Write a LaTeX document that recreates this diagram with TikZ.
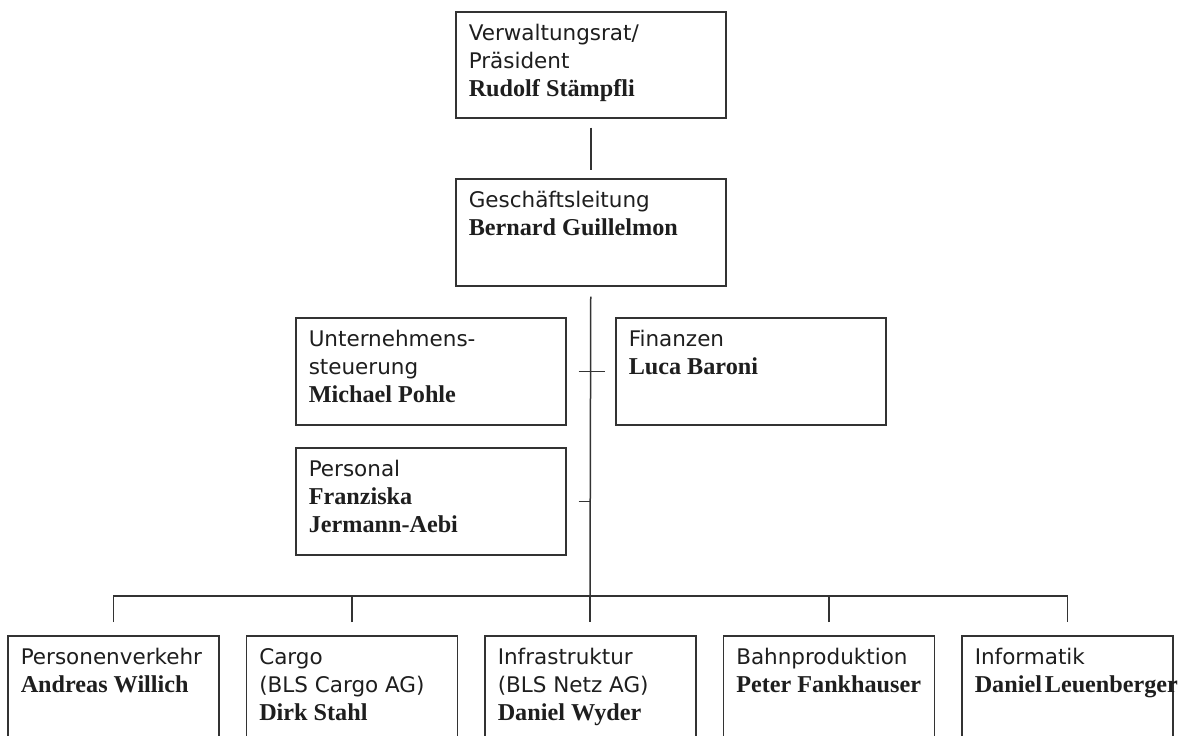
\documentclass[tikz,border=0pt]{standalone}
\usepackage{fontspec}
\setmainfont{DejaVu Sans}
\newfontfamily\nmfont{Liberation Serif}
\definecolor{linec}{HTML}{333333}
\definecolor{textc}{HTML}{1E1E1E}
\newcommand{\nm}[1]{{\nmfont\bfseries\fontsize{24.2pt}{28pt}\selectfont #1}}
\newcommand{\bx}[3]{\parbox[c][#2][t]{#1}{\raggedright\rule{0pt}{29pt}#3}}
\tikzset{
  box/.style={draw=linec, line width=1.5pt, anchor=north west, inner xsep=13pt, inner ysep=0pt,
    text=textc, font=\fontsize{21.5pt}{28pt}\selectfont},
  conn/.style={draw=linec, line width=1.5pt}
}
\begin{document}
\begin{tikzpicture}[x=1pt,y=1pt]
\useasboundingbox (0,0) rectangle (1184,-736);
\clip (0,0) rectangle (1184,-736);
\fill[white] (0,0) rectangle (1184,-736);
% upper boxes (width 270 -> text width 244)
\node[box] (top) at (455,-11) {\bx{244pt}{106pt}{Verwaltungsrat/\\Präsident\\\nm{Rudolf Stämpfli}}};
\node[box] (gl) at (455,-178) {\bx{244pt}{107pt}{Geschäftsleitung\\\nm{Bernard Guillelmon}}};
\node[box] (us) at (295,-317) {\bx{244pt}{107pt}{Unternehmens-\\steuerung\\\nm{Michael Pohle}}};
\node[box] (fin) at (615,-317) {\bx{244pt}{107pt}{Finanzen\\\nm{Luca Baroni}}};
\node[box] (pers) at (295,-447) {\bx{244pt}{107pt}{Personal\\\nm{Franziska}\\\nm{Jermann-Aebi}}};
% bottom boxes (width 211 -> text width 185), open at the bottom
\node[box] (b1) at (7,-635) {\bx{185pt}{140pt}{Personenverkehr\\\nm{Andreas Willich}}};
\node[box] (b2) at (245.5,-635) {\bx{185pt}{140pt}{Cargo\\(BLS Cargo AG)\\\nm{Dirk Stahl}}};
\node[box] (b3) at (484,-635) {\bx{185pt}{140pt}{Infrastruktur\\(BLS Netz AG)\\\nm{Daniel Wyder}}};
\node[box] (b4) at (722.5,-635) {\bx{185pt}{140pt}{Bahnproduktion\\\nm{Peter Fankhauser}}};
\node[box] (b5) at (961,-635) {\bx{185pt}{140pt}{Informatik\\\makebox[0pt][l]{\nm{Daniel\hspace{0.12em}Leuenberger}}}};
% connectors
\coordinate (j) at (590,-596);
\draw[conn] ([yshift=-9pt]top.south) -- ([yshift=8pt]gl.north);
\draw[conn] ([yshift=-10pt]gl.south) -- (j);
\draw[conn] (j) -- ([yshift=13pt]j |- b3.north);
\draw[conn] ([yshift=13pt]b1.north) |- (j) -| ([yshift=13pt]b5.north);
\draw[conn] ([yshift=13pt]b2.north) -- (b2.north |- j);
\draw[conn] ([yshift=13pt]b4.north) -- (b4.north |- j);
\draw[conn] ([xshift=12pt]us.east) -- ([xshift=-10pt]fin.west);
\draw[conn] ([xshift=12pt]pers.east) -- (pers.east -| j);
\end{tikzpicture}
\end{document}
